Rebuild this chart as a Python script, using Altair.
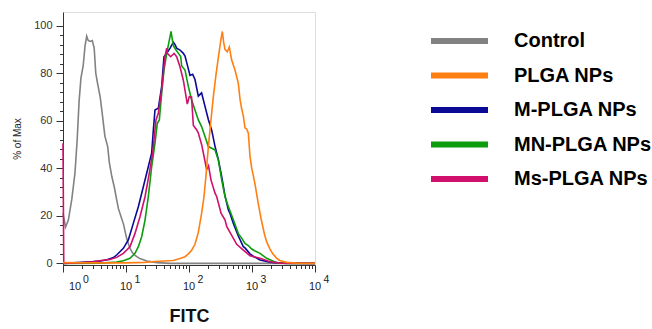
import altair as alt
import pandas as pd

# Flow cytometry overlay: FITC uptake histograms (% of Max) on a log axis
series_names = ["Control", "PLGA NPs", "M-PLGA NPs", "MN-PLGA NPs", "Ms-PLGA NPs"]
series_colors = ["#828282", "#ff7f12", "#0a0a96", "#0c9c0c", "#d0106c"]
draw_order = ["Control", "M-PLGA NPs", "MN-PLGA NPs", "Ms-PLGA NPs", "PLGA NPs"]

# log10(FITC) positions and % of Max values for each histogram
control_log = [0.0, 0.04, 0.085, 0.14, 0.19, 0.225, 0.255, 0.285, 0.32, 0.35, 0.376, 0.40,
               0.43, 0.465, 0.495, 0.52, 0.55, 0.59, 0.625, 0.665, 0.71, 0.735, 0.775, 0.815,
               0.85, 0.88, 0.91, 0.96, 1.01, 1.06, 1.10, 1.15, 1.22, 1.33, 1.49, 1.7, 4.0]
control_pct = [21, 15.2, 18.2, 27, 38, 52, 68, 78, 83, 91.5, 95.5, 93.7,
               93.3, 93.7, 90.5, 80, 75.5, 70, 62.5, 53.5, 49, 42.5, 36.5, 32,
               27, 23, 20.5, 16.5, 10.5, 6.5, 4.5, 3.2, 2.0, 1.0, 0.3, 0, 0]

plga_log = [0.0, 0.5, 1.0, 1.3, 1.45, 1.6, 1.75, 1.857, 1.937, 1.99, 2.042, 2.095, 2.148,
            2.2, 2.238, 2.27, 2.307, 2.344, 2.386, 2.429, 2.466, 2.503, 2.529, 2.55, 2.571,
            2.608, 2.64, 2.677, 2.73, 2.783, 2.81, 2.836, 2.862, 2.889, 2.915, 2.942, 2.968,
            2.995, 3.02, 3.05, 3.1, 3.15, 3.2, 3.233, 3.286, 3.33, 3.39, 3.44, 3.55, 3.7, 4.0]
plga_pct = [0.3, 0.2, 0.2, 0.4, 0.8, 1.0, 1.2, 2.0, 2.8, 4, 5.5, 8, 13,
            21, 28, 37, 49, 59, 70, 79.5, 86.5, 93.5, 97.5, 93, 90,
            89, 91, 85.5, 81.3, 75.7, 69, 65, 62, 57, 56.5, 54.7, 45,
            40, 37, 33, 25, 18, 12, 9, 6, 4, 2.2, 1.2, 0.4, 0.1, 0]

m_plga_log = [0.0, 0.3, 0.48, 0.6, 0.7, 0.8, 0.852, 0.958, 1.037, 1.116, 1.196, 1.275,
              1.354, 1.407, 1.434, 1.46, 1.513, 1.566, 1.603, 1.646, 1.70, 1.751, 1.778,
              1.804, 1.857, 1.91, 1.937, 1.963, 2.016, 2.058, 2.095, 2.148, 2.2, 2.254,
              2.307, 2.36, 2.413, 2.466, 2.519, 2.571, 2.624, 2.651, 2.704, 2.783, 2.862,
              2.889, 2.968, 3.02, 3.127, 3.286, 3.45, 4.0]
m_plga_pct = [0, 0.4, 0.7, 1.0, 1.5, 2.4, 3.5, 6.3, 9.8, 16.8, 23.8, 32.2,
              40.6, 46.3, 56, 64.5, 65.2, 74.3, 86.9, 88.3, 90.5, 93, 92,
              90.5, 89.7, 88.3, 87.2, 84.5, 79, 79.5, 77.3, 70.3, 71.7, 66,
              60.5, 56, 49.2, 43.6, 36.5, 28.5, 22.5, 21, 16.8, 11.5, 7,
              6.5, 4, 3, 1.4, 0.5, 0.1, 0]

mn_plga_log = [0.0, 0.6, 0.85, 0.958, 1.063, 1.143, 1.196, 1.249, 1.302, 1.354, 1.407,
               1.46, 1.497, 1.529, 1.566, 1.603, 1.646, 1.688, 1.715, 1.751, 1.794, 1.83,
               1.868, 1.884, 1.937, 1.99, 2.042, 2.095, 2.148, 2.2, 2.254, 2.307, 2.36,
               2.413, 2.466, 2.519, 2.571, 2.624, 2.651, 2.704, 2.783, 2.836, 2.889, 2.942,
               2.995, 3.05, 3.127, 3.233, 3.39, 3.55, 4.0]
mn_plga_pct = [0, 0.1, 0.5, 1.1, 2.1, 4.2, 7, 11.2, 18.2, 28, 40.6,
               50.5, 58.9, 60.3, 71.5, 81.3, 88.3, 93.9, 97.5, 91.5, 89.7, 88.4,
               87, 83, 81.3, 74.3, 68.7, 64.5, 60.3, 57.5, 53.3, 49.1, 48.4,
               47.7, 43.5, 35.1, 28.1, 23.9, 22, 18.3, 12.5, 10.6, 8.4, 7.5,
               6, 5.2, 4.2, 2.1, 0.3, 0, 0]

ms_plga_log = [0.0, 0.012, 0.3, 0.48, 0.6, 0.746, 0.852, 0.958, 1.063, 1.143, 1.222,
               1.302, 1.37, 1.423, 1.476, 1.513, 1.566, 1.619, 1.646, 1.656, 1.709, 1.762,
               1.804, 1.857, 1.91, 1.973, 2.005, 2.04, 2.069, 2.12, 2.148, 2.2, 2.228,
               2.28, 2.31, 2.35, 2.413, 2.44, 2.51, 2.571, 2.6, 2.651, 2.757, 2.862, 2.968,
               3.127, 3.286, 3.45, 4.0]
ms_plga_pct = [50.5, 0, 0.3, 0.6, 1.2, 1.6, 2.5, 4.2, 7, 12.6, 19.6,
               28, 37.9, 46.3, 60.3, 63.1, 72.9, 86.9, 90.5, 88.3, 86.9, 88.3,
               86.9, 82.7, 77, 67, 70.1, 70, 58, 56.2, 54.8, 50, 46.4,
               39.4, 41, 35, 29.5, 28, 21, 18.3, 15.4, 13, 8, 5.6, 3.2,
               2.1, 0.7, 0.1, 0]

# Decade tick labels drawn as "10" with a raised exponent
decade_exponents = [0, 1, 2, 3, 4]
y_tick_values = list(range(0, 101, 4))
x_tick_values = [m * 10 ** d for d in range(4) for m in range(1, 10)] + [10 ** 4]

curves = {
    "Control": (control_log, control_pct),
    "PLGA NPs": (plga_log, plga_pct),
    "M-PLGA NPs": (m_plga_log, m_plga_pct),
    "MN-PLGA NPs": (mn_plga_log, mn_plga_pct),
    "Ms-PLGA NPs": (ms_plga_log, ms_plga_pct),
}
rows = []
for name in draw_order:
    logs, pcts = curves[name]
    for lg, p in zip(logs, pcts):
        rows.append({"sample": name, "log_fitc": lg, "pct": p})
hist = pd.DataFrame(rows)
ticks = pd.DataFrame({"exp": decade_exponents})

FONT = "Liberation Sans"
W, H = 252, 253

x_scale = alt.Scale(type="log", domain=[1, 10000], nice=False)

lines = alt.Chart(hist).transform_calculate(
    fitc="pow(10, datum.log_fitc)"
).mark_line(strokeWidth=1.6, interpolate="linear").encode(
    x=alt.X(
        "fitc:Q",
        scale=x_scale,
        axis=alt.Axis(
            values=x_tick_values,
            labels=False,
            grid=False,
            tickSize={"condition": {"test": "indexof([1,10,100,1000,10000], datum.value) >= 0",
                                    "value": 7}, "value": 3.5},
            tickColor="#333333",
            domainColor="#333333",
            title="FITC",
            titleFont=FONT,
            titleFontSize=18,
            titleFontWeight="bold",
            titleColor="#111111",
            titleBaseline="alphabetic",
            titleY=56,
        ),
    ),
    y=alt.Y(
        "pct:Q",
        scale=alt.Scale(domain=[-0.7, 105.7], nice=False, zero=False),
        axis=alt.Axis(
            values=y_tick_values,
            labelExpr="datum.value % 20 == 0 ? datum.label : ''",
            grid=False,
            tickSize={"condition": {"test": "datum.value % 20 == 0", "value": 7},
                      "value": 3.5},
            tickColor="#333333",
            domainColor="#333333",
            labelFont=FONT,
            labelFontSize=11,
            labelColor="#333333",
            labelPadding=4,
            title="% of Max",
            titleFont=FONT,
            titleFontSize=10,
            titleFontWeight="normal",
            titleColor="#222222",
            titleAngle=270,
            titleAlign="center",
            titleBaseline="middle",
            titleX=-46,
            titleY=H / 2,
        ),
    ),
    color=alt.Color(
        "sample:N",
        scale=alt.Scale(domain=series_names, range=series_colors),
        legend=alt.Legend(
            title=None,
            orient="none",
            legendX=365,
            legendY=19,
            symbolType="stroke",
            symbolSize=3249,
            symbolStrokeWidth=6,
            clipHeight=20,
            rowPadding=14.5,
            labelFont=FONT,
            labelFontSize=20,
            labelFontWeight="bold",
            labelColor="#000000",
            labelOffset=23,
            labelBaseline="middle",
            labelLimit=300,
        ),
    ),
    detail="sample:N",
)

tick_text = alt.Chart(ticks).transform_calculate(
    fitc="pow(10, datum.exp)", base="'10'", sup="'' + datum.exp"
)

base_first = tick_text.transform_filter("datum.exp == 0").mark_text(
    font=FONT, fontSize=11, color="#222222", align="center", baseline="alphabetic", dx=12
).encode(x=alt.X("fitc:Q", scale=x_scale), y=alt.value(H + 25), text="base:N")
sup_first = tick_text.transform_filter("datum.exp == 0").mark_text(
    font=FONT, fontSize=10.5, color="#222222", align="left", baseline="alphabetic", dx=20
).encode(x=alt.X("fitc:Q", scale=x_scale), y=alt.value(H + 18), text="sup:N")
base_rest = tick_text.transform_filter("datum.exp > 0").mark_text(
    font=FONT, fontSize=11, color="#222222", align="center", baseline="alphabetic", dx=0
).encode(x=alt.X("fitc:Q", scale=x_scale), y=alt.value(H + 25), text="base:N")
sup_rest = tick_text.transform_filter("datum.exp > 0").mark_text(
    font=FONT, fontSize=10.5, color="#222222", align="left", baseline="alphabetic", dx=8.5
).encode(x=alt.X("fitc:Q", scale=x_scale), y=alt.value(H + 18), text="sup:N")

chart = alt.layer(lines, base_first, sup_first, base_rest, sup_rest).properties(
    width=W,
    height=H,
    padding={"left": 63, "top": 12, "right": 652 - 63 - W, "bottom": 329 - 12 - H},
    autosize=alt.AutoSizeParams(type="none"),
).configure_view(
    stroke="#3a3a30", strokeWidth=1
).configure(
    background="white"
)

chart.save("out.html", embed_options={"renderer": "svg", "actions": False})
